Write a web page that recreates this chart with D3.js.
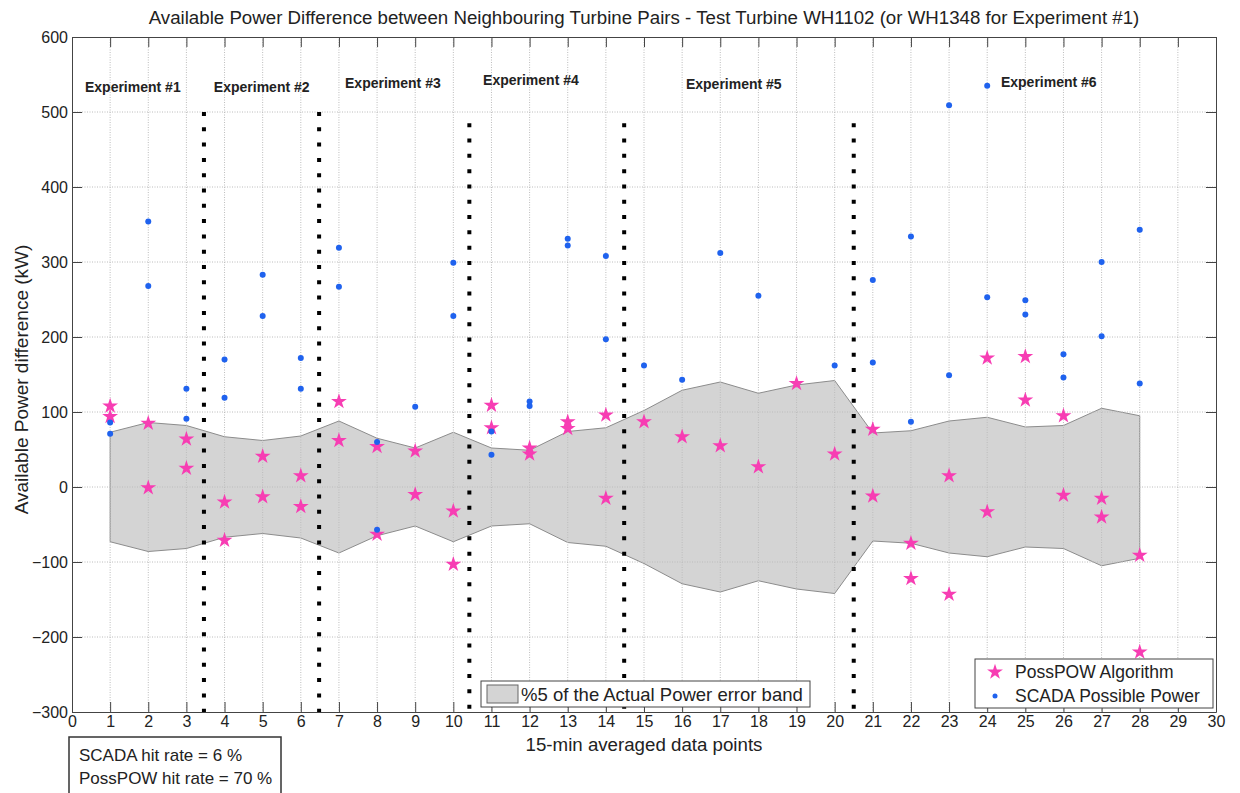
<!DOCTYPE html>
<html>
<head>
<meta charset="utf-8">
<script src="https://cdn.jsdelivr.net/npm/d3@7"></script>
<style>
  body { margin: 0; background: #fff; }
  svg text { font-family: "Liberation Sans", Arial, sans-serif; fill: #222; }
</style>
</head>
<body>
<div id="chart"></div>
<script>
// Available power difference per 15-min data point

// error band half-width (+/- 5% of actual power), one value per data point 1..28
const bandX = d3.range(1, 29);
const bandHalf = [73, 86, 82, 67, 62, 68, 88, 65, 52, 73, 52, 49, 74, 79,
                  102, 129, 140, 125, 136, 142, 72, 75, 88, 93, 80, 82, 105, 95];

// PossPOW algorithm (stars)
const starX = [1, 1, 2, 2, 3, 3, 4, 4, 5, 5, 6, 6, 7, 7, 8, 8, 9, 9, 10, 10,
               11, 11, 12, 12, 13, 13, 14, 14, 15, 16, 17, 18, 19, 20,
               21, 21, 22, 22, 23, 23, 24, 24, 25, 25, 26, 26, 27, 27, 28, 28];
const starY = [108, 94, 85, -1, 64, 25, -20, -71, 41, -13, 15, -26, 114, 62, 54, -63, 48, -10, -32, -103,
               109, 79, 52, 44, 87, 78, 96, -15, 87, 67, 55, 27, 138, 44,
               77, -12, -75, -122, 15, -143, 172, -33, 174, 116, 95, -11, -15, -40, -91, -220];

// SCADA possible power (dots)
const dotX = [1, 1, 2, 2, 3, 3, 4, 4, 5, 5, 6, 6, 7, 7, 8, 8, 9, 10, 10,
              11, 11, 12, 12, 13, 13, 14, 14, 15, 16, 17, 18, 20,
              21, 21, 22, 22, 23, 23, 24, 24, 25, 25, 26, 26, 27, 27, 28, 28];
const dotY = [86, 71, 354, 268, 131, 91, 170, 119, 283, 228, 172, 131, 319, 267, 60, -57, 107, 299, 228,
              74, 43, 114, 108, 331, 322, 308, 197, 162, 143, 312, 255, 162,
              276, 166, 334, 87, 509, 149, 535, 253, 249, 230, 177, 146, 300, 201, 343, 138];

// experiment separators and labels
const sepX = [3.46, 6.48, 10.42, 14.48, 20.5];
const sepTop = [500, 500, 485, 485, 485];
const expNames = ["Experiment #1", "Experiment #2", "Experiment #3", "Experiment #4", "Experiment #5", "Experiment #6"];
const expX = [0.34, 3.72, 7.16, 10.78, 16.1, 24.36];
const expY = [533, 533, 539, 543, 537, 540];

const title = "Available Power Difference between Neighbouring Turbine Pairs - Test Turbine WH1102 (or WH1348 for Experiment #1)";

const width = 1240;
const height = 793;
const marginLeft = 72;
const marginRight = 24;
const marginTop = 37;
const marginBottom = 81;

const pink = "#f73db3";
const blue = "#1f62ee";

const svg = d3.select("#chart").append("svg")
    .attr("width", width)
    .attr("height", height);

const x = d3.scaleLinear().domain([0, 30]).range([marginLeft, width - marginRight]);
const y = d3.scaleLinear().domain([-300, 600]).range([height - marginBottom, marginTop]);

// grey error band
const area = d3.area()
    .x((d, i) => x(bandX[i]))
    .y0(d => y(-d))
    .y1(d => y(d));
svg.append("path")
    .datum(bandHalf)
    .attr("d", area)
    .attr("fill", "#d4d4d4")
    .attr("stroke", "#8c8c8c")
    .attr("stroke-width", 1);

// dotted grid
const grid = svg.append("g").attr("stroke", "#bcbcbc").attr("stroke-width", 1).attr("stroke-dasharray", "1,1.5");
grid.selectAll("line.vx")
  .data(d3.range(1, 30))
  .join("line")
    .attr("x1", d => x(d)).attr("x2", d => x(d))
    .attr("y1", y(600)).attr("y2", y(-300));
grid.selectAll("line.hy")
  .data(d3.range(-200, 600, 100))
  .join("line")
    .attr("x1", x(0)).attr("x2", x(30))
    .attr("y1", d => y(d)).attr("y2", d => y(d));

// experiment separators (thick black dotted)
svg.selectAll("line.sep")
  .data(sepX)
  .join("line")
    .attr("x1", d => x(d)).attr("x2", d => x(d))
    .attr("y1", (d, i) => y(sepTop[i])).attr("y2", y(-300))
    .attr("stroke", "#000")
    .attr("stroke-width", 4)
    .attr("stroke-dasharray", "4,11.3");

// markers
const star = d3.symbol().type(d3.symbolStar).size(78);
svg.selectAll("path.star")
  .data(starX)
  .join("path")
    .attr("transform", (d, i) => `translate(${x(d)},${y(starY[i])})`)
    .attr("d", star)
    .attr("fill", pink);

svg.selectAll("circle.dot")
  .data(dotX)
  .join("circle")
    .attr("cx", d => x(d))
    .attr("cy", (d, i) => y(dotY[i]))
    .attr("r", 3)
    .attr("fill", blue);

// axes with inward ticks
const axisColor = "#444";
svg.append("g")
    .attr("transform", `translate(0,${y(-300)})`)
    .call(d3.axisBottom(x).ticks(30).tickSize(-10).tickPadding(4).tickSizeOuter(0));
svg.append("g")
    .attr("transform", `translate(${x(0)},0)`)
    .call(d3.axisLeft(y).ticks(9).tickSize(-10).tickPadding(4).tickSizeOuter(0));
svg.append("g")
    .attr("transform", `translate(0,${y(600)})`)
    .call(d3.axisTop(x).ticks(30).tickSize(-10).tickFormat("").tickSizeOuter(0));
svg.append("g")
    .attr("transform", `translate(${x(30)},0)`)
    .call(d3.axisRight(y).ticks(9).tickSize(-10).tickFormat("").tickSizeOuter(0));
svg.selectAll(".domain, .tick line").attr("stroke", axisColor);
svg.selectAll(".tick text").attr("font-size", "16px").attr("fill", "#222");

// experiment labels
svg.selectAll("text.exp")
  .data(expNames)
  .join("text")
    .attr("x", (d, i) => x(expX[i]))
    .attr("y", (d, i) => y(expY[i]) + 5)
    .attr("font-size", "14px")
    .attr("font-weight", "bold")
    .text(d => d);

// title and axis labels
svg.append("text")
    .attr("x", (x(0) + x(30)) / 2)
    .attr("y", 24)
    .attr("text-anchor", "middle")
    .attr("font-size", "18.7px")
    .text(title);
svg.append("text")
    .attr("x", (x(0) + x(30)) / 2)
    .attr("y", 751)
    .attr("text-anchor", "middle")
    .attr("font-size", "18.7px")
    .text("15-min averaged data points");
svg.append("text")
    .attr("transform", `translate(28,${(y(600) + y(-300)) / 2 + 5}) rotate(-90)`)
    .attr("text-anchor", "middle")
    .attr("font-size", "19px")
    .text("Available Power difference (kW)");

// band legend
const bandLeg = svg.append("g");
bandLeg.append("rect")
    .attr("x", 481).attr("y", 681).attr("width", 329).attr("height", 26)
    .attr("fill", "#fff").attr("stroke", "#444");
bandLeg.append("rect")
    .attr("x", 487).attr("y", 685).attr("width", 31).attr("height", 18)
    .attr("fill", "#d4d4d4").attr("stroke", "#666");
bandLeg.append("text")
    .attr("x", 521).attr("y", 701)
    .attr("font-size", "18.5px")
    .text("%5 of the Actual Power error band");

// marker legend
const leg = svg.append("g");
leg.append("rect")
    .attr("x", 975).attr("y", 659).attr("width", 238).attr("height", 49)
    .attr("fill", "#fff").attr("stroke", "#444");
leg.append("path")
    .attr("transform", "translate(995,672)")
    .attr("d", star)
    .attr("fill", pink);
leg.append("circle")
    .attr("cx", 995).attr("cy", 696).attr("r", 2.5)
    .attr("fill", blue);
leg.append("text")
    .attr("x", 1015).attr("y", 678)
    .attr("font-size", "17.5px")
    .text("PossPOW Algorithm");
leg.append("text")
    .attr("x", 1015).attr("y", 702)
    .attr("font-size", "17.5px")
    .text("SCADA Possible Power");

// hit rate box
const hit = svg.append("g");
hit.append("rect")
    .attr("x", 69).attr("y", 737).attr("width", 212).attr("height", 70)
    .attr("fill", "#fff").attr("stroke", "#333").attr("stroke-width", 1.5);
hit.append("text")
    .attr("x", 79).attr("y", 761)
    .attr("font-family", "Lato, sans-serif")
    .attr("font-size", "17px")
    .text("SCADA hit rate = 6 %");
hit.append("text")
    .attr("x", 79).attr("y", 784)
    .attr("font-family", "Lato, sans-serif")
    .attr("font-size", "17px")
    .text("PossPOW hit rate = 70 %");
</script>
</body>
</html>
